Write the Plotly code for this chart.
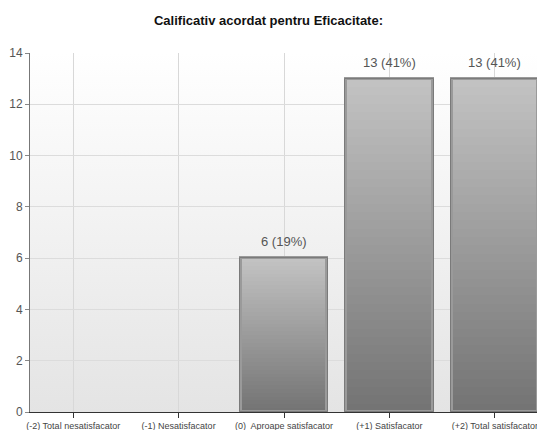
import plotly.graph_objects as go

# Rating categories and vote counts
categories = [
    "(-2) Total nesatisfacator",
    "(-1) Nesatisfacator",
    "(0)\u00a0 Aproape satisfacator",
    "(+1) Satisfacator",
    "(+2) Total satisfacator",
]
counts = [0, 0, 6, 13, 13]
title_text = "Calificativ acordat pentru Eficacitate:"

total = sum(counts)
x_pos = list(range(len(categories)))
# empty categories get no bar (and no outline)
bar_vals = [v if v > 0 else None for v in counts]

fig = go.Figure()

# Vertical gradient inside each bar: stacked overlays from full height (light) down to dark
n_steps = 40
top_rgb = (194, 194, 194)
bot_rgb = (116, 116, 116)
bar_width = 0.82
for k in range(n_steps):
    t = k / (n_steps - 1)
    c = tuple(round(top_rgb[i] + (bot_rgb[i] - top_rgb[i]) * t) for i in range(3))
    frac = 1 - k / n_steps
    fig.add_trace(go.Bar(
        x=x_pos, y=[None if v is None else v * frac for v in bar_vals], width=bar_width,
        marker=dict(color=f"rgb{c}", line=dict(width=0)),
        hoverinfo="skip", showlegend=False,
    ))

# Bar outlines
fig.add_trace(go.Bar(
    x=x_pos, y=bar_vals, width=bar_width,
    marker=dict(color="rgba(0,0,0,0)", line=dict(color="#9a9a9a", width=3)),
    hoverinfo="skip", showlegend=False,
))
fig.add_trace(go.Bar(
    x=x_pos, y=bar_vals, width=bar_width + 0.02,
    marker=dict(color="rgba(0,0,0,0)", line=dict(color="#7a7a7a", width=1)),
    hoverinfo="skip", showlegend=False,
))

# Value labels with percentage of total
for xi, v in zip(x_pos, counts):
    if v > 0:
        fig.add_annotation(
            x=xi, y=v, text=f"{v} ({round(v / total * 100)}%)",
            showarrow=False, yanchor="bottom", yshift=7,
            font=dict(family="Liberation Sans, Arial, sans-serif", size=13, color="#555555"),
        )

# Soft white-to-gray background gradient for the plotting area
bg_svg = (
    "data:image/svg+xml;utf8,<svg xmlns='http://www.w3.org/2000/svg' width='10' height='100' "
    "preserveAspectRatio='none'><defs><linearGradient id='g' x1='0' y1='0' x2='0' y2='1'>"
    "<stop offset='0' stop-color='%23ffffff'/><stop offset='1' stop-color='%23e4e4e4'/>"
    "</linearGradient></defs><rect width='10' height='100' fill='url(%23g)'/></svg>"
)
fig.add_layout_image(
    source=bg_svg, xref="paper", yref="paper", x=0, y=1, sizex=1, sizey=1,
    sizing="stretch", xanchor="left", yanchor="top", layer="below",
)

fig.update_layout(
    width=537, height=430,
    margin=dict(l=30, r=0, t=53, b=18),
    barmode="overlay", bargap=0,
    paper_bgcolor="white", plot_bgcolor="rgba(0,0,0,0)",
    title=dict(
        text=f"<b>{title_text}</b>", x=0.5, xref="container", xanchor="center",
        y=1 - 20 / 430, yanchor="middle",
        font=dict(family="Liberation Sans, Arial, sans-serif", size=13, color="#111111"),
    ),
    font=dict(family="Liberation Sans, Arial, sans-serif"),
    xaxis=dict(
        range=[-0.41, 4.40], tickmode="array", tickvals=x_pos, ticktext=categories,
        tickfont=dict(size=9, color="#444444"), ticklabeloverflow="allow",
        showgrid=True, gridcolor="#d8d8d8", gridwidth=1,
        showline=True, linecolor="#333333", linewidth=1,
        ticks="outside", ticklen=5, tickcolor="#333333",
        zeroline=False, fixedrange=True,
    ),
    yaxis=dict(
        range=[0, 14], dtick=2, tickfont=dict(size=12, color="#555555"),
        showgrid=True, gridcolor="#dcdcdc", gridwidth=1,
        showline=True, linecolor="#777777", linewidth=1,
        ticks="outside", ticklen=4, tickcolor="#888888",
        zeroline=False, fixedrange=True,
    ),
)

fig.write_html("out.html")
